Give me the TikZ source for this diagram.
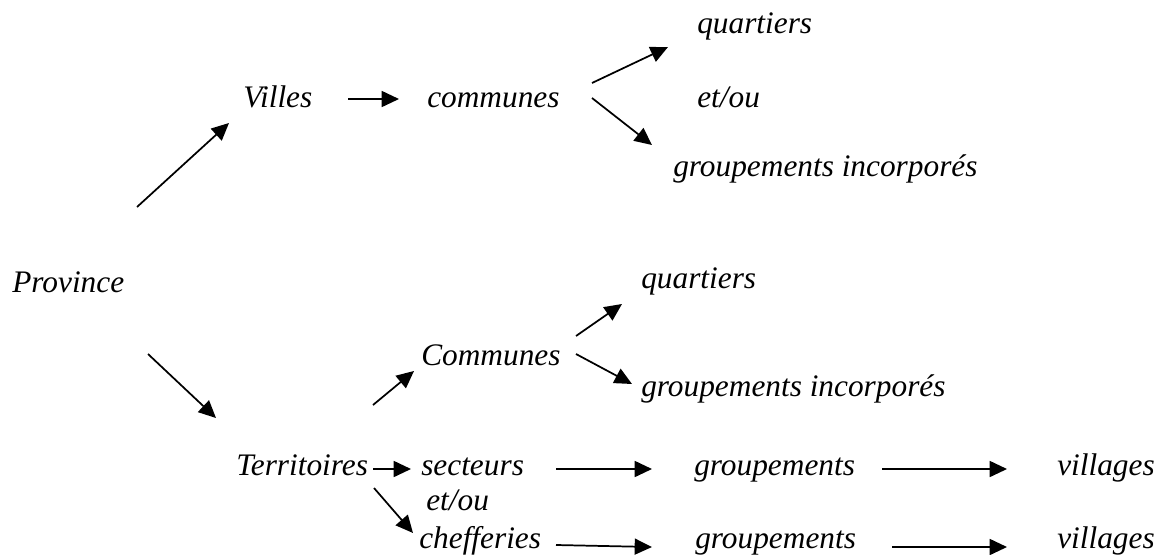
\documentclass[tikz,border=0pt]{standalone}
\usepackage{fontspec}
\setmainfont{Liberation Serif}[ItalicFont={Liberation Serif Italic}]
\usetikzlibrary{arrows.meta}
\begin{document}
\begin{tikzpicture}[x=0.75pt,y=-0.75pt,
  lbl/.style={anchor=base west,inner sep=0pt,font=\fontsize{23.5}{28}\selectfont\itshape},
  arr/.style={line width=1.3pt,-{Triangle[length=13pt,width=12pt]}}]
\useasboundingbox (0,0) rectangle (1160,554);
% labels
\node[lbl] (province) at (12,292) {Province};
\node[lbl] (villes) at (243,107) {Villes};
\node[lbl] (communes) at (427,107) {communes};
\node[lbl] (quart1) at (697,33) {quartiers};
\node[lbl] (etou1) at (697,107) {et/ou};
\node[lbl] (grinc1) at (673,176) {groupements incorporés};
\node[lbl] (Communes) at (421,365) {Communes};
\node[lbl] (quart2) at (641,288) {quartiers};
\node[lbl] (grinc2) at (641,396) {groupements incorporés};
\node[lbl] (territoires) at (236,475) {Territoires};
\node[lbl] (secteurs) at (421,475) {secteurs};
\node[lbl] (etou2) at (426,510) {et/ou};
\node[lbl] (chefferies) at (419,548) {chefferies};
\node[lbl] (grp1) at (694,475) {groupements};
\node[lbl] (grp2) at (695,548) {groupements};
\node[lbl] (vil1) at (1057,475) {villages};
\node[lbl] (vil2) at (1057,548) {villages};
% connector end points
\coordinate (a1s) at (137,207); \coordinate (a1e) at (229,123);
\coordinate (a2s) at (348,99);  \coordinate (a2e) at (399,99);
\coordinate (a3s) at (592,83);  \coordinate (a3e) at (668,47);
\coordinate (a4s) at (592,98);  \coordinate (a4e) at (652,145);
\coordinate (a5s) at (148,354); \coordinate (a5e) at (216,418);
\coordinate (a6s) at (373,405); \coordinate (a6e) at (414,371);
\coordinate (a7s) at (576,336); \coordinate (a7e) at (622,304);
\coordinate (a8s) at (576,354); \coordinate (a8e) at (632,384);
\coordinate (a9s) at (373,469); \coordinate (a9e) at (411,469);
\coordinate (a10s) at (556,469); \coordinate (a10e) at (652,469);
\coordinate (a11s) at (882,469); \coordinate (a11e) at (1007,469);
\coordinate (a12s) at (374,488); \coordinate (a12e) at (413,533);
\coordinate (a13s) at (556,545); \coordinate (a13e) at (652,547);
\coordinate (a14s) at (892,547); \coordinate (a14e) at (1007,547);
\foreach \i in {1,...,14} {\draw[arr] (a\i s) -- (a\i e);}
\end{tikzpicture}
\end{document}
